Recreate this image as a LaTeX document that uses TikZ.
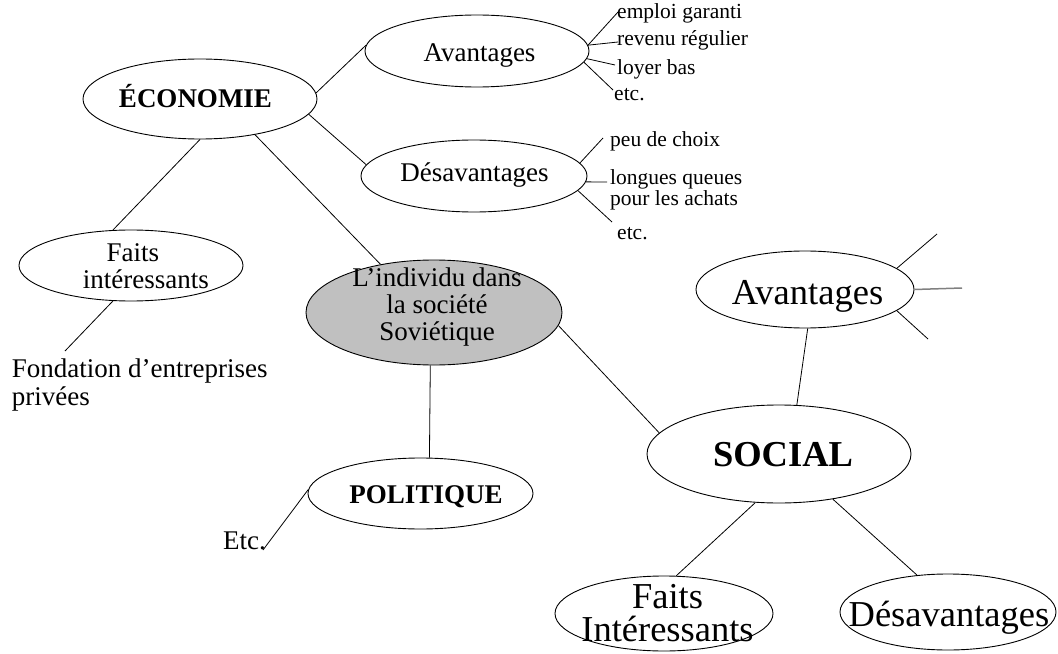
\documentclass[tikz,border=0pt]{standalone}
\usepackage{fontspec}
\setmainfont{Liberation Serif}
\usetikzlibrary{shapes.geometric}
\definecolor{hubgray}{RGB}{192,192,192}
\definecolor{spokegray}{RGB}{128,128,128}
\begin{document}
\begin{tikzpicture}[x=1bp,y=-1bp,
  bubble/.style={ellipse, draw, line width=0.9bp, inner sep=0pt},
  link/.style={line width=0.8bp},
  small/.style={font=\fontsize{21.5bp}{19.5bp}\selectfont, inner sep=0pt},
  mid/.style={font=\fontsize{27bp}{27bp}\selectfont, inner sep=0pt},
  big/.style={font=\fontsize{36.5bp}{33bp}\selectfont, inner sep=0pt}]
\useasboundingbox (0,0) rectangle (1058,654);

% ---- bubbles ----
\node[bubble, minimum width=234bp, minimum height=80bp] (eco) at (200,99) {};
\node[bubble, minimum width=224bp, minimum height=72bp] (ecoav) at (477,51) {};
\node[bubble, minimum width=226bp, minimum height=72bp] (ecodes) at (474,176) {};
\node[bubble, minimum width=224bp, minimum height=71bp] (ecofi) at (131,265.5) {};
\node[bubble, fill=hubgray, minimum width=256bp, minimum height=105bp] (hub) at (434,312.5) {};
\node[bubble, minimum width=225bp, minimum height=71bp] (pol) at (420.5,493.5) {};
\node[bubble, minimum width=264bp, minimum height=98bp] (soc) at (779,454) {};
\node[bubble, minimum width=218bp, minimum height=77bp] (socav) at (805,289.5) {};
\node[bubble, minimum width=218bp, minimum height=75bp] (socfi) at (664,613.5) {};
\node[bubble, minimum width=216bp, minimum height=76bp] (socdes) at (948,612) {};

% ---- bubble texts ----
\node[mid, anchor=base] (eco-t) at (195.5,107.3) {\bfseries ÉCONOMIE};
\node[mid, anchor=base] (ecoav-t) at (479.5,62) {Avantages};
\node[mid, anchor=base] (ecodes-t) at (474.5,181.2) {Désavantages};
\node[mid, align=center] (ecofi-t) at (145.8,266.2) {Faits\hspace*{26bp}\\intéressants};
\node[mid, align=center] (hub-t) at (437,307.5) {L’individu dans\\la société\\Soviétique};
\node[mid, anchor=base] (pol-t) at (426,503) {\bfseries POLITIQUE};
\node[big, anchor=base] (soc-t) at (783,466) {\bfseries SOCIAL};
\node[big, anchor=base] (socav-t) at (807.5,304) {Avantages};
\node[big, align=center] (socfi-t) at (667.5,613.5) {Faits\\Intéressants};
\node[big, anchor=base] (socdes-t) at (949,626) {Désavantages};

% ---- free texts ----
\node[small, anchor=base west] (emp) at (617,18.5) {emploi garanti};
\node[small, anchor=base west] (rev) at (617,46) {revenu régulier};
\node[small, anchor=base west] (loy) at (617,74.5) {loyer bas};
\node[small, anchor=base west] (etca) at (614,100.5) {etc.};
\node[small, anchor=base west] (peu) at (610,147) {peu de choix};
\node[small, align=left, anchor=north west] (lq) at (610,169.8) {longues queues\\pour les achats};
\node[small, anchor=base west] (etcb) at (617,239) {etc.};
\node[mid, align=left, anchor=north west, font=\fontsize{27bp}{28bp}\selectfont] (fond) at (11.7,358.6) {Fondation d’entreprises\\privées};
\node[mid, anchor=base west] (etcc) at (223,549.5) {Etc.};

% ---- free ends of connectors ----
\coordinate (emp-e) at (618,12);
\coordinate (rev-e) at (618,42);
\coordinate (loy-e) at (615,65);
\coordinate (etca-e) at (613,90);
\coordinate (peu-e) at (603,138);
\coordinate (lq-e) at (607,182);
\coordinate (etcb-e) at (612,222);
\coordinate (fond-e) at (65,351);
\coordinate (etcc-e) at (263,550);
\coordinate (ray1) at (937,234);
\coordinate (ray2) at (962,288);
\coordinate (ray3) at (928,339);

% ---- connectors ----
\draw[link] (eco.3) -- (ecoav.177);
\draw[link] (eco.-8) -- (ecodes.174);
\draw[link] (eco.-90) -- (ecofi.117);
\draw[link] (eco.-33) -- (hub.138);
\draw[link] (ecofi.-117) -- (fond-e);
\draw[link] (hub.-6) -- (soc.170);
\draw[link] (hub.-94) -- (pol.76);
\draw[link] (pol.178) -- (etcc-e);
\draw[link] (soc.70) -- (socav.-86);
\draw[link] (soc.-116) -- (socfi.72);
\draw[link] (soc.-40) -- (socdes.130);

\draw[link] (ecoav.3) -- (emp-e);
\draw[link] (ecoav.3) -- (rev-e);
\draw[link] (ecoav.-4) -- (loy-e);
\draw[link] (ecoav.-6) -- (etca-e);
\draw[link] (ecodes.7) -- (peu-e);
\draw[link] (ecodes.-3) -- (lq-e);
\draw[link] (ecodes.-8) -- (etcb-e);

\draw[link] (socav.13) -- (ray1);
\draw[line width=1.5bp, spokegray] (socav.0) -- (ray2);
\draw[link] (socav.-13) -- (ray3);
\end{tikzpicture}
\end{document}
